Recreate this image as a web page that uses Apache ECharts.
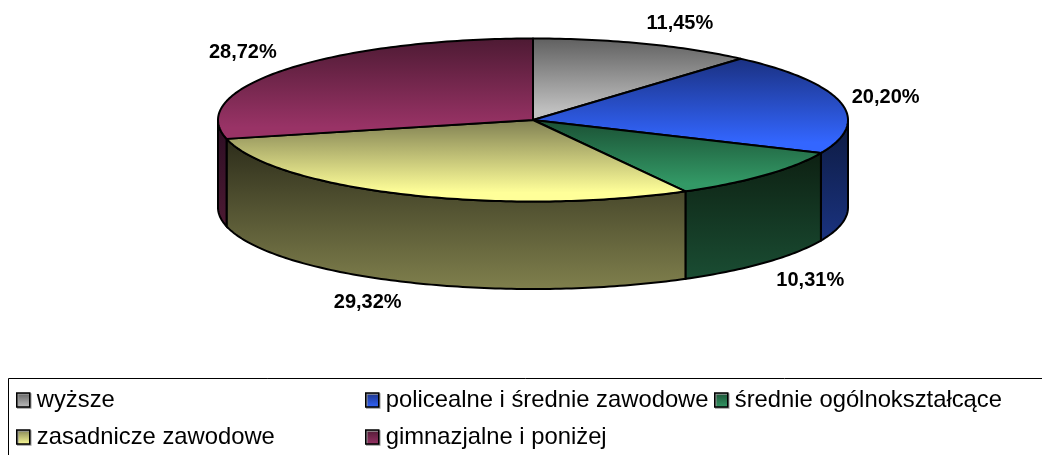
<!DOCTYPE html>
<html>
<head>
<meta charset="utf-8">
<style>html,body{margin:0;padding:0;background:#fff}#c{width:1042px;height:455px}</style>
<script src="https://cdn.jsdelivr.net/npm/echarts@6/dist/echarts.min.js"></script>
</head>
<body>
<div id="c"></div>
<script>
const categories = ['wyższe', 'policealne i średnie zawodowe', 'średnie ogólnokształcące', 'zasadnicze zawodowe', 'gimnazjalne i poniżej'];
const shares = [11.45, 20.20, 10.31, 29.32, 28.72];
const shareLabels = ['11,45%', '20,20%', '10,31%', '29,32%', '28,72%'];
const topDark = ['#5f5f5f', '#1a3080', '#1a4f33', '#7f7f52', '#4d1a33'];
const topBright = ['#c0c0c0', '#3366ff', '#339966', '#ffff99', '#993366'];
const wallDark = ['#303030', '#0d1a40', '#0d2012', '#2c2c1a', '#2a0d22'];
const wallBright = ['#606060', '#1a3380', '#1a4d33', '#80804d', '#4d1a33'];

const PIE = { cx: 533, cy: 120, rx: 315, ry: 81.5, depth: 87.5 };
const labelNudge = [[36, -20], [45, -5], [45, 18], [-38, 20], [-43, -17]];
const legendSpots = [[16, 388], [365, 388], [714, 388], [16, 425], [365, 425]];

const cumulative = [];
shares.reduce((sum, s, i) => { cumulative[i] = sum; return sum + s; }, 0);
const total = shares.reduce((a, b) => a + b, 0);

function rim(deg, lift) {
  const t = deg * Math.PI / 180;
  return [PIE.cx + PIE.rx * Math.sin(t), PIE.cy - PIE.ry * Math.cos(t) + (lift || 0)];
}
function arc(a, b, lift) {
  const pts = [], n = Math.max(2, Math.ceil(Math.abs(b - a)));
  for (let i = 0; i <= n; i++) pts.push(rim(a + (b - a) * i / n, lift));
  return pts;
}
function vGrad(c0, c1, plateau) {
  return { type: 'linear', x: 0, y: 0, x2: 0, y2: 1, colorStops: [{ offset: 0, color: c0 }, { offset: plateau || 1, color: c1 }, { offset: 1, color: c1 }] };
}
function renderSlice(idx) {
  return function (params, api) {
    const start = api.value(0) / total * 360;
    const end = start + api.value(1) / total * 360;
    const children = [];
    const a = Math.max(start, 90), b = Math.min(end, 270);
    if (b > a) {
      const upper = arc(a, b, 0), lower = arc(b, a, PIE.depth);
      children.push({
        type: 'polygon',
        shape: { points: upper.concat(lower) },
        style: { fill: vGrad(wallDark[idx], wallBright[idx]), stroke: '#000', lineWidth: 2 }
      });
    }
    children.push({
      type: 'polygon',
      shape: { points: [[PIE.cx, PIE.cy]].concat(arc(start, end, 0)) },
      style: { fill: vGrad(topDark[idx], topBright[idx], 0.88), stroke: '#000', lineWidth: 2, lineJoin: 'round' }
    });
    const mid = (start + end) / 2;
    const onFront = mid > 90 && mid < 270;
    const anchor = rim(mid, onFront ? PIE.depth : 0);
    children.push({
      type: 'text',
      z2: 100,
      style: {
        x: anchor[0] + labelNudge[idx][0], y: anchor[1] + labelNudge[idx][1],
        text: shareLabels[idx], align: 'center', verticalAlign: 'middle',
        font: 'bold 20px "Liberation Sans", Arial, sans-serif', fill: '#000'
      }
    });
    return { type: 'group', children };
  };
}

const chart = echarts.init(document.getElementById('c'), null, { renderer: 'canvas' });
chart.setOption({
  animation: false,
  backgroundColor: '#fff',
  tooltip: { show: false },
  graphic: [{
    type: 'rect', z: -1,
    shape: { x: 8.5, y: 378.5, width: 1060, height: 100 },
    style: { fill: '#fff', stroke: '#000', lineWidth: 1 }
  }],
  legend: categories.map((name, i) => ({
    data: [name],
    left: legendSpots[i][0], top: legendSpots[i][1],
    padding: 0, itemGap: 0,
    itemWidth: 13, itemHeight: 14,
    icon: 'rect',
    selectedMode: false,
    itemStyle: {
      color: vGrad(topDark[i], topBright[i]),
      borderColor: '#000', borderWidth: 1.5,
      shadowColor: '#999', shadowOffsetX: 1, shadowOffsetY: 1, shadowBlur: 0
    },
    textStyle: { fontFamily: '"Liberation Sans", Arial, sans-serif', fontSize: 23.8, color: '#000', padding: [0, 0, 6, 2] }
  })),
  series: categories.map((name, i) => ({
    type: 'custom',
    name,
    coordinateSystem: 'none',
    silent: true,
    itemStyle: { color: topBright[i] },
    renderItem: renderSlice(i),
    data: [[cumulative[i], shares[i]]]
  }))
});
</script>
</body>
</html>
